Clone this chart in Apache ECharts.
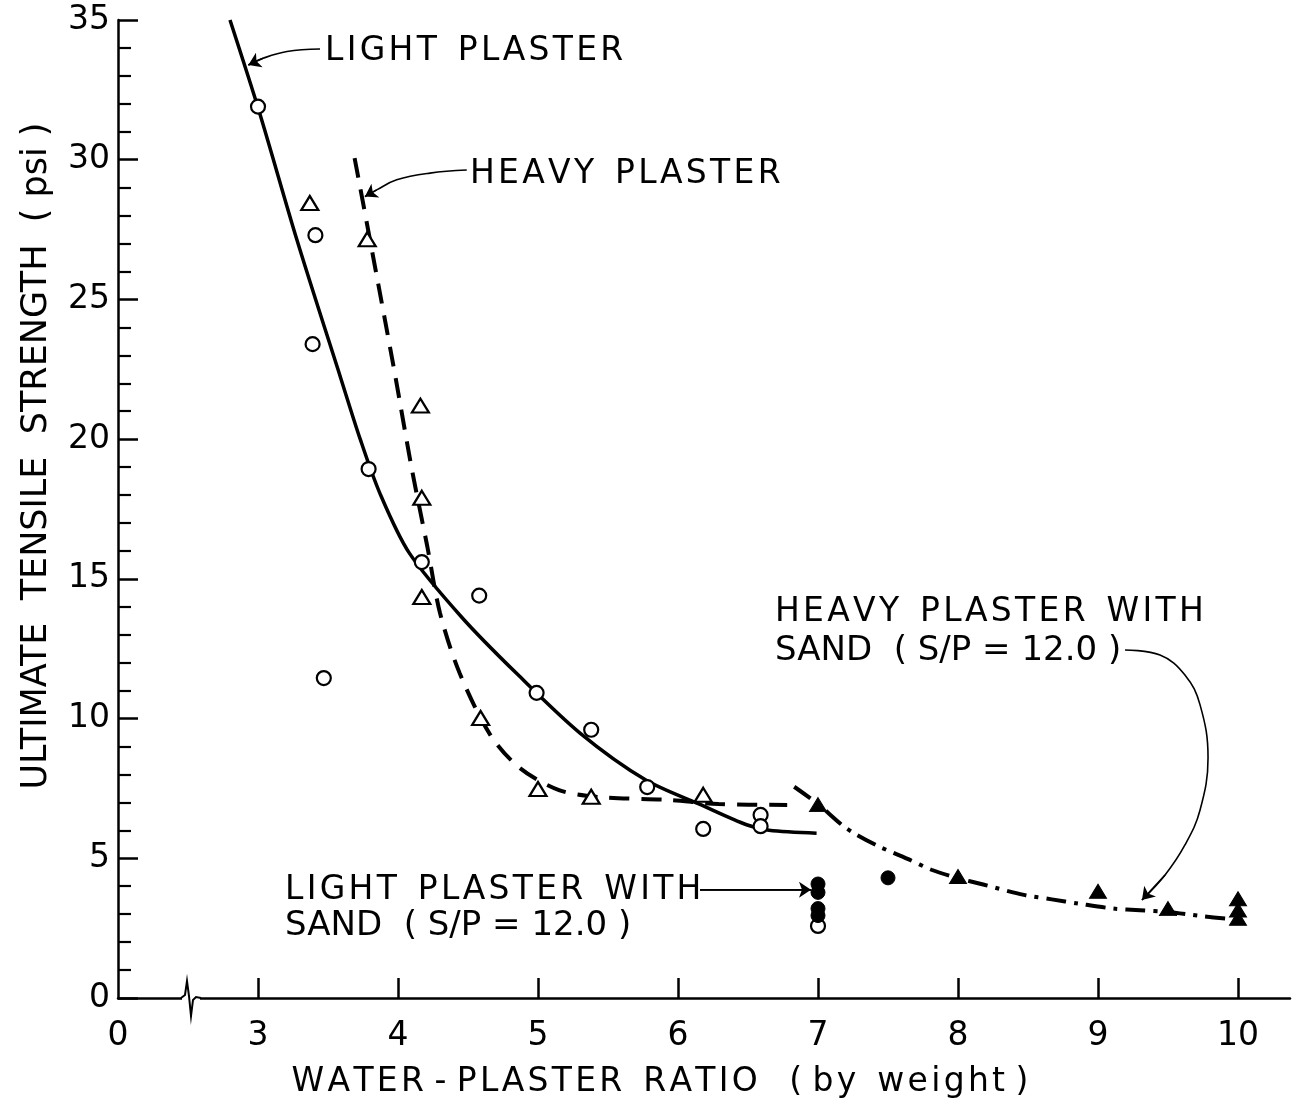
<!DOCTYPE html>
<html><head><meta charset="utf-8">
<script src="https://cdn.jsdelivr.net/npm/echarts@6/dist/echarts.min.js"></script>
<style>html,body{margin:0;padding:0;background:#fff}#c{width:1295px;height:1103px}</style>
</head><body><div id="c"></div>
<script>
// ---- axis ticks / labels ----
const xTickValues = [3, 4, 5, 6, 7, 8, 9, 10];
const xLabelValues = [2, 3, 4, 5, 6, 7, 8, 9, 10];   // 2 is drawn as "0" (broken axis)
const yTickLabels = [0, 5, 10, 15, 20, 25, 30, 35];

// ---- measured points [water-plaster ratio, strength psi] ----
const lightPlaster = [[3.0,31.9],[3.41,27.3],[3.39,23.4],[3.47,11.45],[3.79,18.93],[4.17,15.6],[4.58,14.4],[4.99,10.92],[5.38,9.6],[5.78,7.55],[6.18,6.05],[6.59,6.55],[6.59,6.15],[7.0,2.58]];
const heavyPlaster = [[3.37,28.45],[3.78,27.15],[4.16,21.2],[4.17,17.9],[4.17,14.35],[4.59,10.02],[5.0,7.48],[5.38,7.2],[6.18,7.27]];
const lightSand = [[7.0,4.08],[7.0,3.78],[7.0,3.2],[7.0,2.95],[7.5,4.3]];
const heavySand = [[7.0,6.92],[8.0,4.35],[9.0,3.82],[9.5,3.2],[10.0,3.55],[10.0,3.15],[10.0,2.85]];

// ---- fitted curves ----
const lightCurve = [[2.80,35.0],[3.01,31.7],[3.28,27.1],[3.59,22.2],[3.73,20.0],[3.87,18.07],[4.08,15.93],[4.46,13.6],[4.85,11.6],[5.30,9.48],[5.77,7.8],[6.17,6.9],[6.49,6.2],[6.65,6.0],[6.99,5.9]];
const heavyCurve = [[3.69,30.06],[3.80,27.13],[3.97,22.55],[4.10,18.9],[4.21,16.14],[4.30,13.78],[4.44,11.63],[4.66,9.41],[4.87,8.23],[5.15,7.44],[5.44,7.19],[5.93,7.09],[6.29,6.94],[6.78,6.91]];
const sandCurve = [[6.83,7.56],[7.0,6.94],[7.17,6.2],[7.27,5.86],[7.44,5.41],[7.64,4.98],[7.81,4.59],[7.99,4.3],[8.18,4.06],[8.47,3.69],[8.67,3.53],[8.86,3.38],[9.11,3.2],[9.30,3.14],[9.5,3.08],[9.74,2.93],[9.94,2.83]];

// ---- annotation leaders (data coords) ----
const leaderLight = [[3.443,33.96],[3.207,33.87],[3.036,33.63],[2.931,33.39]];
const leaderHeavy = [[4.491,29.63],[4.229,29.52],[3.991,29.28],[3.848,28.92],[3.764,28.68]];
const leaderLightSand = [[6.157,3.87],[6.95,3.87]];
const leaderHeavySand = [[9.193,12.455],[9.443,12.276],[9.621,11.56],[9.729,10.49],[9.786,8.6],[9.729,6.729],[9.621,5.476],[9.479,4.402],[9.314,3.507]];

const FONT = '"DejaVu Sans", "Liberation Sans", sans-serif';
const chart = echarts.init(document.getElementById('c'), null, {renderer: 'canvas'});

function leaderSeries(d) {
  return {type: 'line', data: d, smooth: 0.4, symbol: 'none', silent: true,
    lineStyle: {color: '#000', width: 1.6}, z: 3};
}
const arrowHeads = [leaderLight, leaderHeavy, leaderLightSand, leaderHeavySand].map(a => ({coords: [a[a.length - 2], a[a.length - 1]]}));

const option = {
  animation: false,
  backgroundColor: '#fff',
  grid: {left: 118, top: 20, width: 1172, height: 978, outerBoundsMode: 'none', containLabel: false},
  xAxis: {
    type: 'value', min: 2, max: 2 + 1172 / 140, interval: 1,
    axisLine: {show: true, lineStyle: {color: '#000', width: 2.5}},
    axisTick: {show: true, inside: true, length: 20, customValues: xTickValues, lineStyle: {color: '#000', width: 2.5}},
    axisLabel: {customValues: xLabelValues, margin: 22, color: '#000', fontSize: 33, fontFamily: FONT,
      formatter: v => (v === 2 ? '0' : String(v))},
    splitLine: {show: false}
  },
  yAxis: {
    type: 'value', min: 0, max: 35, interval: 5,
    axisLine: {show: true, lineStyle: {color: '#000', width: 2.5}},
    axisTick: {show: true, inside: true, length: 20, customValues: yTickLabels, lineStyle: {color: '#000', width: 2.5}},
    minorTick: {show: true, splitNumber: 5, length: 13, lineStyle: {color: '#000', width: 2.2}},
    axisLabel: {margin: 8, color: '#000', fontSize: 33, fontFamily: FONT},
    splitLine: {show: false}
  },
  series: [
    {type: 'line', data: lightCurve, smooth: 0.3, symbol: 'none', lineStyle: {color: '#000', width: 3.5}, z: 2},
    {type: 'line', data: heavyCurve, smooth: 0.3, symbol: 'none', lineStyle: {color: '#000', width: 4, type: [20, 12]}, z: 2},
    {type: 'line', data: sandCurve, smooth: 0.3, symbol: 'none', lineStyle: {color: '#000', width: 4, type: [20, 8, 4, 8]}, z: 2},
    leaderSeries(leaderLight), leaderSeries(leaderHeavy), leaderSeries(leaderLightSand), leaderSeries(leaderHeavySand),
    {type: 'lines', coordinateSystem: 'cartesian2d', data: arrowHeads, symbol: ['none', 'arrow'], symbolSize: 12,
      lineStyle: {color: '#000', width: 1.6, curveness: 0, opacity: 1}, itemStyle: {color: '#000', opacity: 1}, silent: true, z: 3},
    {type: 'scatter', data: lightPlaster, symbol: 'circle', symbolSize: 14,
      itemStyle: {color: '#fff', borderColor: '#000', borderWidth: 2.2, opacity: 1}, z: 5},
    {type: 'scatter', data: heavyPlaster, symbol: 'triangle', symbolSize: [17, 14],
      itemStyle: {color: '#fff', borderColor: '#000', borderWidth: 2.2, opacity: 1}, z: 5},
    {type: 'scatter', data: lightSand, symbol: 'circle', symbolSize: 14,
      itemStyle: {color: '#000', borderColor: '#000', borderWidth: 1, opacity: 1}, z: 5},
    {type: 'scatter', data: heavySand, symbol: 'triangle', symbolSize: [17, 14],
      itemStyle: {color: '#000', borderColor: '#000', borderWidth: 1, opacity: 1}, z: 5}
  ]
};
chart.setOption(option);

// text annotations and axis break
const o = chart.convertToPixel({gridIndex: 0}, [2.5, 0]);
const bx = o[0], by = o[1];
const track = s => s.replace(/(\S)(?=\S)/g, '$1\u200A');
function txt(t, x, y, size) {
  return {type: 'text', x: x, y: y, z: 10,
    style: {text: t, font: (size || 33) + 'px ' + FONT, fill: '#000', textAlign: 'left', textVerticalAlign: 'middle'}};
}
chart.setOption({
  graphic: [
    txt(track('LIGHT  PLASTER'), 325, 51),
    txt(track('HEAVY  PLASTER'), 470, 174),
    txt(track('HEAVY  PLASTER  WITH'), 775, 612),
    txt('SAND  ( S/P = 12.0 )', 775, 651, 34),
    txt(track('LIGHT  PLASTER  WITH'), 285, 890),
    txt('SAND  ( S/P = 12.0 )', 285, 926, 34),
    {type: 'text', x: 37, y: 456, rotation: Math.PI / 2, z: 10,
      style: {text: 'ULTIMATE  TENSILE  STRENGTH  ( psi )', font: '35px ' + FONT, fill: '#000', textAlign: 'center', textVerticalAlign: 'middle'}},
    {type: 'text', x: 660, y: 1082, z: 10,
      style: {text: track('WATER') + ' - ' + track('PLASTER  RATIO   ( by  weight )'), font: '33px ' + FONT, fill: '#000', textAlign: 'center', textVerticalAlign: 'middle'}},
    {type: 'rect', z: 9, shape: {x: bx - 6, y: by - 3, width: 18, height: 6}, style: {fill: '#fff'}},
    {type: 'polyline', z: 10, shape: {points: [[bx - 7, by], [bx - 3, by - 3], [bx - 1, by - 17], [bx + 1, by - 2], [bx + 3, by + 18], [bx + 5, by + 2], [bx + 8, by - 1], [bx + 13, by]]},
      style: {stroke: '#000', lineWidth: 2, fill: null}}
  ]
});
</script>
</body></html>
